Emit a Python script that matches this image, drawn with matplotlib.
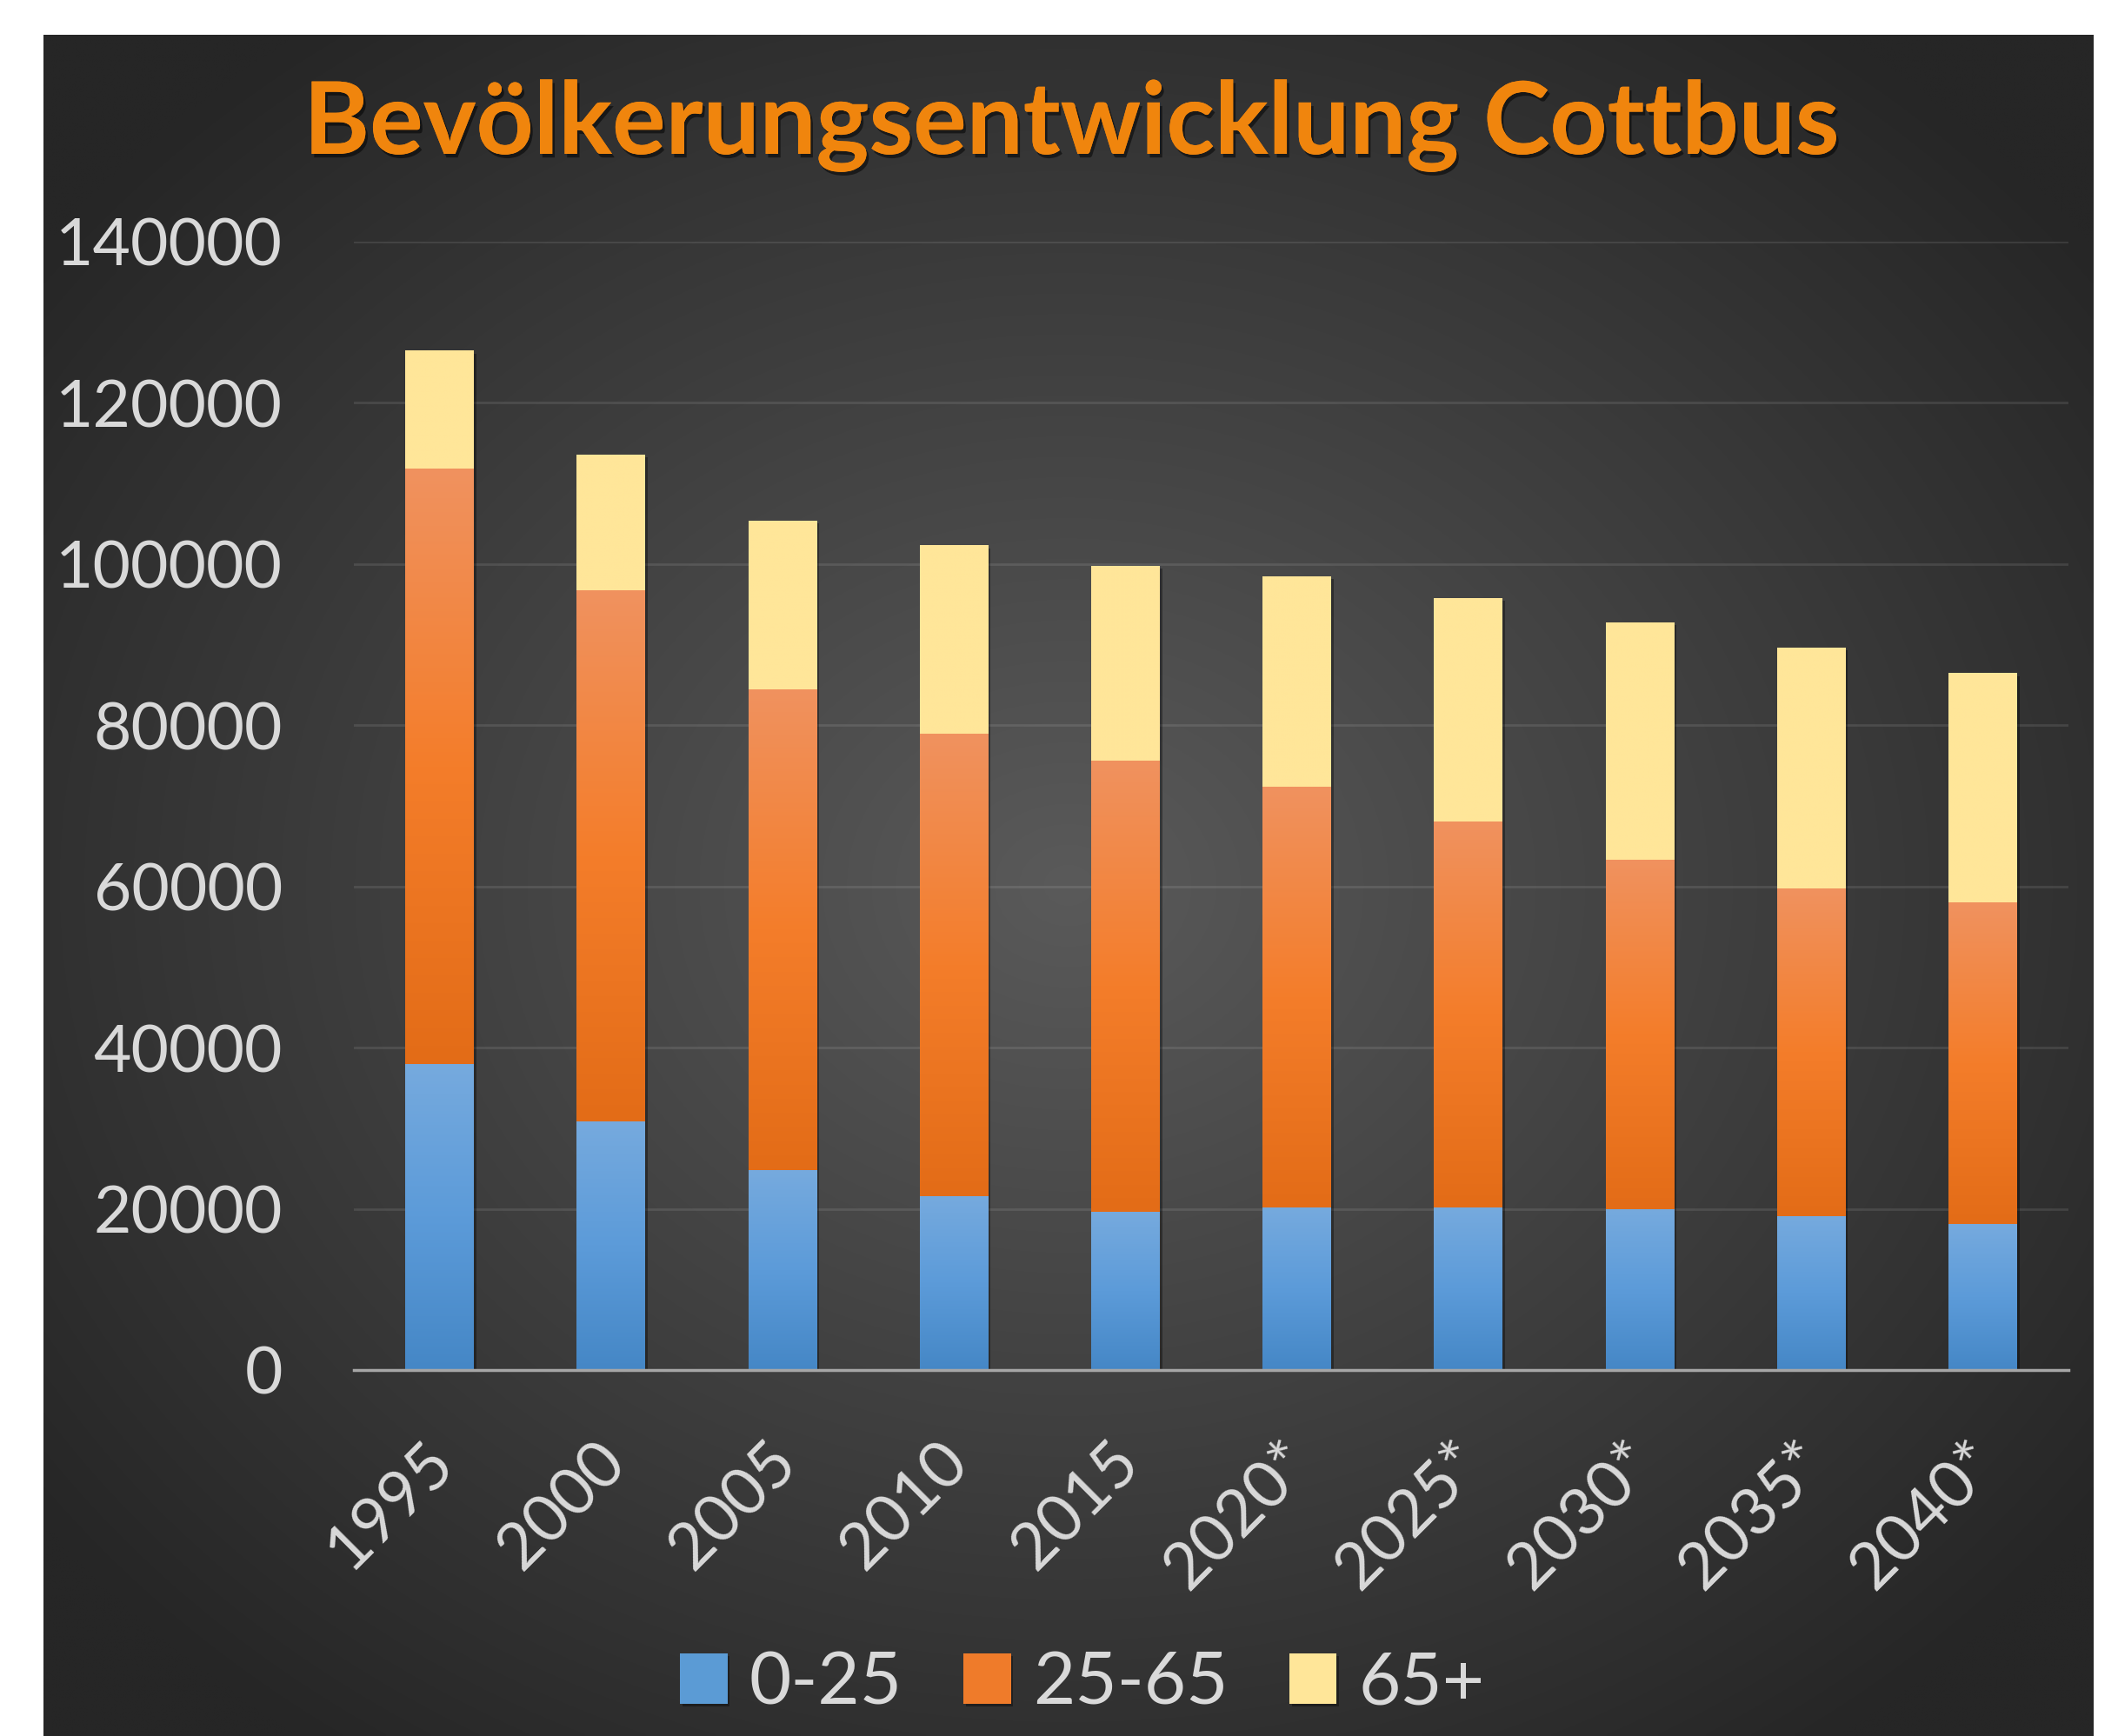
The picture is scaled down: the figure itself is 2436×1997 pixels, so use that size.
import numpy as np
import matplotlib
matplotlib.use("Agg")
import matplotlib.pyplot as plt
from matplotlib import patheffects as pe
from matplotlib.colors import LinearSegmentedColormap
import matplotlib.transforms as mtransforms

# ---------------- data ----------------
years = ["1995", "2000", "2005", "2010", "2015", "2020*", "2025*", "2030*", "2035*", "2040*"]
age_0_25 = [38000, 30900, 24800, 21600, 19600, 20200, 20200, 19900, 19100, 18100]
age_25_65 = [73800, 65900, 59700, 57300, 56000, 52200, 47900, 43400, 40700, 39900]
age_65_plus = [14600, 16800, 20900, 23300, 24100, 26100, 27700, 29400, 29800, 28400]
series_names = ["0-25", "25-65", "65+"]
y_ticks = [0, 20000, 40000, 60000, 80000, 100000, 120000, 140000]
title = "Bevölkerungsentwicklung Cottbus"

# ---------------- style ----------------
FONT = ["Lato", "DejaVu Sans"]
plt.rcParams['font.family'] = FONT
TXT = '#d9d9d9'
W, H = 2436, 1997
fig = plt.figure(figsize=(W / 100, H / 100), dpi=100)
fig.patch.set_facecolor('white')

# dark panel with radial gradient
px0, px1, py0, py1 = 50, 2408, 40, 1997
bg_ax = fig.add_axes([px0 / W, 1 - py1 / H, (px1 - px0) / W, (py1 - py0) / H], zorder=0)
bg_ax.set_axis_off()
ny, nx = 500, 600
yy, xx = np.mgrid[-1:1:ny * 1j, -1:1:nx * 1j]
r = np.sqrt(xx ** 2 + yy ** 2)
t = np.clip(r / 1.25, 0, 1)
val = (0x5a + (0x26 - 0x5a) * t) / 255.0
bg_ax.imshow(np.dstack([val, val, val]), aspect='auto', extent=[0, 1, 0, 1],
             interpolation='bilinear')
bg_ax.set_xlim(0, 1)
bg_ax.set_ylim(0, 1)

# main axes
ax = fig.add_axes([407 / W, 1 - 1576 / H, (2379 - 407) / W, (1576 - 278) / H], zorder=1)
ax.patch.set_alpha(0)

x = np.arange(len(years))
width = 0.4
series = [age_0_25, age_25_65, age_65_plus]
mid_colors = ['#5b9bd5', '#ef7b2a', '#ffe699']
grad_colors = [
    ['#4587c6', '#5c9bd9', '#76aade'],
    ['#e36c17', '#f47d2a', '#f0925f'],
    ['#ffe699', '#ffe699'],
]
grad = np.linspace(0, 1, 256).reshape(-1, 1)
bottoms = np.zeros(len(x))
for vals, name, mc, gc in zip(series, series_names, mid_colors, grad_colors):
    bars = ax.bar(x, vals, width, bottom=bottoms, color=mc, label=name, zorder=2,
                  linewidth=0,
                  path_effects=[pe.withSimplePatchShadow(offset=(2, -2), shadow_rgbFace='black',
                                                         alpha=0.35), pe.Normal()])
    cmap = LinearSegmentedColormap.from_list(name, gc)
    for b in bars:
        ax.imshow(grad, cmap=cmap, origin='lower', aspect='auto', interpolation='bilinear',
                  extent=[b.get_x(), b.get_x() + b.get_width(), b.get_y(), b.get_y() + b.get_height()],
                  zorder=3)
    bottoms += np.array(vals)

ax.set_xlim(-0.5, len(years) - 0.5)
ax.set_ylim(0, 140000)
ax.set_yticks(y_ticks)
ax.set_yticklabels([str(v) for v in y_ticks])
ax.set_xticks(x)
ax.set_xticklabels(years)
ax.tick_params(axis='both', length=0, colors=TXT, labelsize=54)
ax.tick_params(axis='y', pad=59)
ax.tick_params(axis='x', pad=68)
offset = mtransforms.ScaledTranslation(5 / 100, 0, fig.dpi_scale_trans)
for lab in ax.get_xticklabels():
    lab.set_rotation(45)
    lab.set_ha('right')
    lab.set_va('center')
    lab.set_rotation_mode('anchor')
    lab.set_transform(lab.get_transform() + offset)

ax.yaxis.grid(True, color='white', alpha=0.1, linewidth=2, zorder=0)
ax.set_axisbelow(True)
for s in ['top', 'right', 'left']:
    ax.spines[s].set_visible(False)
ax.spines['bottom'].set_color('#a6a6a6')
ax.spines['bottom'].set_linewidth(2.5)
ax.spines['bottom'].set_zorder(4)

# title
fig.text(0.506, 1 - 177 / H, title, ha='center', va='baseline', fontsize=83,
         fontweight='bold', color='#f0850d', zorder=5,
         path_effects=[pe.withSimplePatchShadow(offset=(2, -3), shadow_rgbFace='black', alpha=0.5),
                       pe.Normal()])

# legend
handles, labels = ax.get_legend_handles_labels()
leg = fig.legend(handles, labels, loc='center', bbox_to_anchor=(0.511, 0.030), ncol=3,
                 frameon=False, fontsize=60, handlelength=0.65, handleheight=0.7,
                 handletextpad=0.3, columnspacing=0.85)
for tx in leg.get_texts():
    tx.set_color(TXT)
leg.set_zorder(6)

fig.savefig("out.png", dpi=100, facecolor='white')
